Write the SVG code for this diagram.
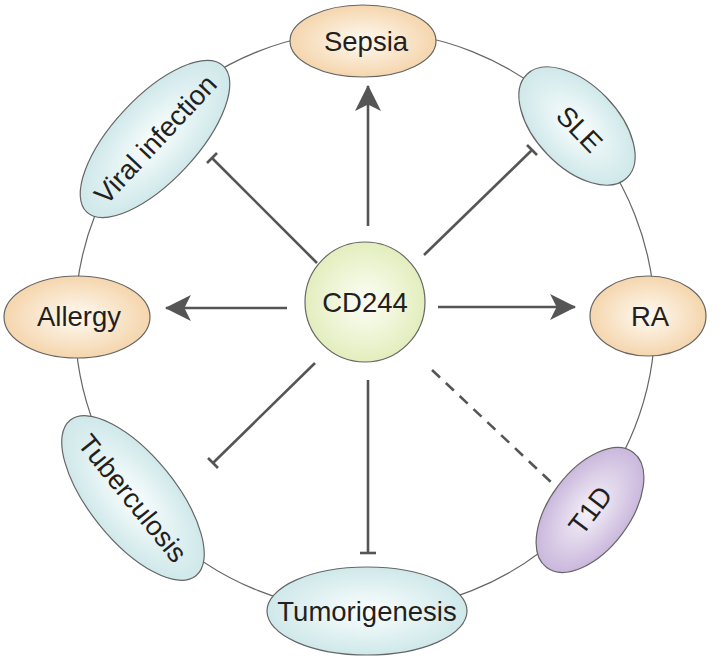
<svg xmlns="http://www.w3.org/2000/svg" width="726" height="661" viewBox="0 0 726 661">
<style>
.node{stroke:#666;stroke-width:1.2}
.lbl{font-family:"Liberation Sans",Arial,sans-serif;font-size:27.5px;fill:#231f20;text-anchor:middle}
.con{stroke:#555;stroke-width:2.6;fill:none}
</style>
<defs>
<radialGradient id="gOrange" cx="50%" cy="50%" r="55%"><stop offset="0" stop-color="#fefaf3"/><stop offset="1" stop-color="#f4d2a6"/></radialGradient>
<radialGradient id="gBlue" cx="50%" cy="50%" r="55%"><stop offset="0" stop-color="#fbfefe"/><stop offset="1" stop-color="#cbe6e8"/></radialGradient>
<radialGradient id="gGreen" cx="50%" cy="50%" r="55%"><stop offset="0" stop-color="#fdfef6"/><stop offset="1" stop-color="#e0ecb8"/></radialGradient>
<radialGradient id="gPurple" cx="50%" cy="50%" r="55%"><stop offset="0" stop-color="#f6f3f9"/><stop offset="1" stop-color="#c6b2da"/></radialGradient>
<marker id="arr" markerUnits="userSpaceOnUse" markerWidth="26" markerHeight="26" viewBox="0 0 24 24" refX="23" refY="12" orient="auto">
<path d="M0,0 L24,12 L0,24 L6,12 Z" fill="#555"/>
</marker>
</defs>
<circle cx="365" cy="321" r="290" fill="none" stroke="#666" stroke-width="1.2"/>
<g id="connectors">
<line class="con" x1="368" y1="226" x2="368" y2="86" marker-end="url(#arr)"/>
<line class="con" x1="287" y1="308" x2="166" y2="308" marker-end="url(#arr)"/>
<line class="con" x1="438" y1="307" x2="575" y2="307" marker-end="url(#arr)"/>
<line class="con" x1="317" y1="263" x2="212" y2="158"/>
<line class="con" x1="217" y1="153" x2="207" y2="163"/>
<line class="con" x1="424" y1="255" x2="532" y2="150"/>
<line class="con" x1="537" y1="155" x2="527" y2="145"/>
<line class="con" x1="315" y1="363" x2="213" y2="463"/>
<line class="con" x1="218" y1="468" x2="208" y2="458"/>
<line class="con" x1="368" y1="380" x2="368" y2="553"/>
<line class="con" x1="360" y1="553" x2="376" y2="553"/>
<line class="con" x1="432" y1="370" x2="552" y2="483" stroke-dasharray="11 8"/>
</g>
<g id="cd244">
<circle class="node" cx="365" cy="302" r="60" fill="url(#gGreen)"/>
<text class="lbl" x="365" y="312">CD244</text>
</g>
<g id="sepsia">
<ellipse class="node" cx="363" cy="41" rx="73" ry="36" fill="url(#gOrange)"/>
<text class="lbl" x="366" y="51">Sepsia</text>
</g>
<g id="allergy">
<ellipse class="node" cx="77" cy="317" rx="73" ry="41" fill="url(#gOrange)"/>
<text class="lbl" x="79" y="326">Allergy</text>
</g>
<g id="ra">
<ellipse class="node" cx="648" cy="316" rx="58" ry="40" fill="url(#gOrange)"/>
<text class="lbl" x="650" y="326">RA</text>
</g>
<g id="viral-infection" transform="translate(155,139) rotate(-47)">
<ellipse class="node" cx="0" cy="0" rx="100" ry="42" fill="url(#gBlue)"/>
<text class="lbl" x="0" y="10">Viral infection</text>
</g>
<g id="sle" transform="translate(577,126) rotate(46)">
<ellipse class="node" cx="0" cy="0" rx="72" ry="41" fill="url(#gBlue)"/>
<text class="lbl" x="4" y="10">SLE</text>
</g>
<g id="tuberculosis" transform="translate(133,498) rotate(51)">
<ellipse class="node" cx="0" cy="0" rx="100" ry="43" fill="url(#gBlue)"/>
<text class="lbl" x="0" y="10">Tuberculosis</text>
</g>
<g id="t1d" transform="translate(590,510) rotate(-53)">
<ellipse class="node" cx="0" cy="0" rx="72" ry="40" fill="url(#gPurple)"/>
<text class="lbl" x="0" y="10">T1D</text>
</g>
<g id="tumorigenesis">
<ellipse class="node" cx="367" cy="611" rx="100" ry="44" fill="url(#gBlue)"/>
<text class="lbl" x="367" y="621">Tumorigenesis</text>
</g>
</svg>
